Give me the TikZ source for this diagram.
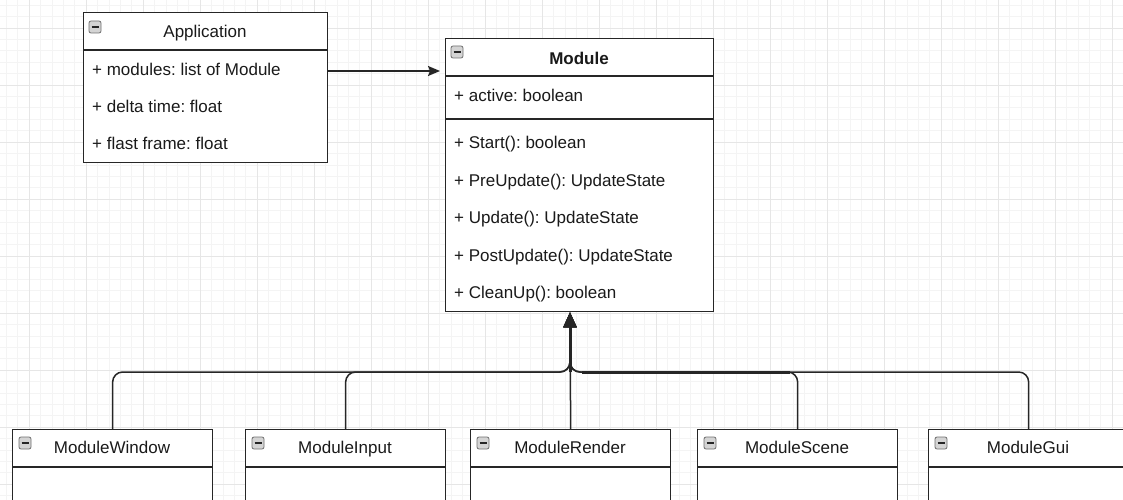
\documentclass[tikz,border=0pt]{standalone}
\usepackage{fontspec}
\setmainfont{Liberation Sans}
\usetikzlibrary{arrows.meta}
\definecolor{umlLine}{HTML}{262626}
\definecolor{umlText}{HTML}{1A1A1A}
\definecolor{gridMinor}{HTML}{F4F4F4}
\definecolor{gridMajor}{HTML}{E6E6E6}
\definecolor{foldFill}{HTML}{D4D4D4}
\definecolor{foldLine}{HTML}{707070}
\frenchspacing

\begin{document}
\begin{tikzpicture}[x=1pt, y=-1pt,
  classbox/.style={draw=umlLine, line width=1.3pt, fill=white, inner sep=0pt, anchor=north west},
  divider/.style={draw=umlLine, line width=1.3pt},
  title/.style={font=\fontsize{17}{20}\selectfont, text=umlText, text height=12.5pt, text depth=3.5pt, inner sep=0pt},
  member/.style={font=\fontsize{17}{20}\selectfont, text=umlText, anchor=west, inner sep=0pt,
    text height=12.5pt, text depth=3.5pt},
  fold/.style={draw=foldLine, fill=foldFill, rounded corners=2pt, minimum size=12pt,
    inner sep=0pt, line width=0.8pt, text=umlLine},
  arr/.style={-{Stealth[length=12pt, width=10pt, inset=2pt]}, line width=1.5pt, draw=umlLine},
  inherit/.style={-{Triangle[length=15pt, width=13pt]}, line width=1.5pt, draw=umlLine, rounded corners=10pt},
  busthick/.style={draw=umlLine, line width=3pt}
]
  \useasboundingbox (0,0) rectangle (1123,500);
  \clip (0,0) rectangle (1123,500);
  \fill[white] (0,0) rectangle (1123,500);

  % Grid
  \draw[gridMinor, line width=0.6pt, shift={(29,28)}] (-57,-57) grid[step=11.4pt] (1140,520);
  \draw[gridMajor, line width=0.9pt, shift={(29,28)}] (-57,-57) grid[step=57pt] (1140,520);

  % Application
  \node[classbox, minimum width=244pt, minimum height=150pt] (app) at (83,12) {};
  \draw[divider] ([yshift=-38pt]app.north west) -- ([yshift=-38pt]app.north east);
  \node[fold] (appfold) at (95,27) {\rule{7pt}{1.8pt}};
  \node[title] (apptitle) at (205,33) {Application};
  \node[member] (appmod) at (92,71) {+ modules: list of Module};
  \node[member] (appdt) at (92,108) {+ delta time: float};
  \node[member] (appff) at (92,145) {+ flast frame: float};

  % Module
  \node[classbox, minimum width=268pt, minimum height=273pt] (module) at (445,38) {};
  \draw[divider] ([yshift=-38pt]module.north west) -- ([yshift=-38pt]module.north east);
  \draw[divider] ([yshift=-81pt]module.north west) -- ([yshift=-81pt]module.north east);
  \node[fold] (modfold) at (457,52) {\rule{7pt}{1.8pt}};
  \node[title, font=\fontsize{17}{20}\selectfont\bfseries] (modtitle) at (579,60) {Module};
  \node[member] (modactive) at (454,97) {+ active: boolean};
  \node[member] (modstart) at (454,144) {+ Start(): boolean};
  \node[member] (modpre) at (454,182) {+ PreUpdate(): UpdateState};
  \node[member] (modupd) at (454,219) {+ Update(): UpdateState};
  \node[member] (modpost) at (454,257) {+ PostUpdate(): UpdateState};
  \node[member] (modclean) at (454,294) {+ CleanUp(): boolean};

  % Child modules
  \node[classbox, minimum width=200pt, minimum height=120pt] (win) at (12,429) {};
  \draw[divider] ([yshift=-38pt]win.north west) -- ([yshift=-38pt]win.north east);
  \node[fold] (winfold) at (25,443) {\rule{7pt}{1.8pt}};
  \node[title] (wintitle) at (112,449) {ModuleWindow};

  \node[classbox, minimum width=200pt, minimum height=120pt] (input) at (245,429) {};
  \draw[divider] ([yshift=-38pt]input.north west) -- ([yshift=-38pt]input.north east);
  \node[fold] (inputfold) at (258,443) {\rule{7pt}{1.8pt}};
  \node[title] (inputtitle) at (345,449) {ModuleInput};

  \node[classbox, minimum width=200pt, minimum height=120pt] (render) at (470,429) {};
  \draw[divider] ([yshift=-38pt]render.north west) -- ([yshift=-38pt]render.north east);
  \node[fold] (renderfold) at (483,443) {\rule{7pt}{1.8pt}};
  \node[title] (rendertitle) at (570,449) {ModuleRender};

  \node[classbox, minimum width=200pt, minimum height=120pt] (scene) at (697,429) {};
  \draw[divider] ([yshift=-38pt]scene.north west) -- ([yshift=-38pt]scene.north east);
  \node[fold] (scenefold) at (710,443) {\rule{7pt}{1.8pt}};
  \node[title] (scenetitle) at (797,449) {ModuleScene};

  \node[classbox, minimum width=200pt, minimum height=120pt] (gui) at (928,429) {};
  \draw[divider] ([yshift=-38pt]gui.north west) -- ([yshift=-38pt]gui.north east);
  \node[fold] (guifold) at (941,443) {\rule{7pt}{1.8pt}};
  \node[title] (guititle) at (1028,449) {ModuleGui};

  % Connectors
  \draw[arr, shorten >=5pt] (appmod -| app.east) -- (appmod -| module.west);

  \coordinate (bus) at (570,372);
  \draw[inherit] (win.north) |- (bus) -- (bus |- module.south);
  \draw[inherit] (input.north) |- (bus) -- (bus |- module.south);
  \draw[inherit] (gui.north) |- (bus) -- (bus |- module.south);
  \draw[inherit] (render.north) -- (bus |- module.south);
  \draw[inherit] (scene.north) |- (bus) -- (bus |- module.south);
  % selected edge
  \draw[busthick, shorten <=12pt, shorten >=8pt] (bus) -- (bus -| scene.north);
  \draw[inherit, line width=3pt] (bus) -- (bus |- module.south);
\end{tikzpicture}
\end{document}
